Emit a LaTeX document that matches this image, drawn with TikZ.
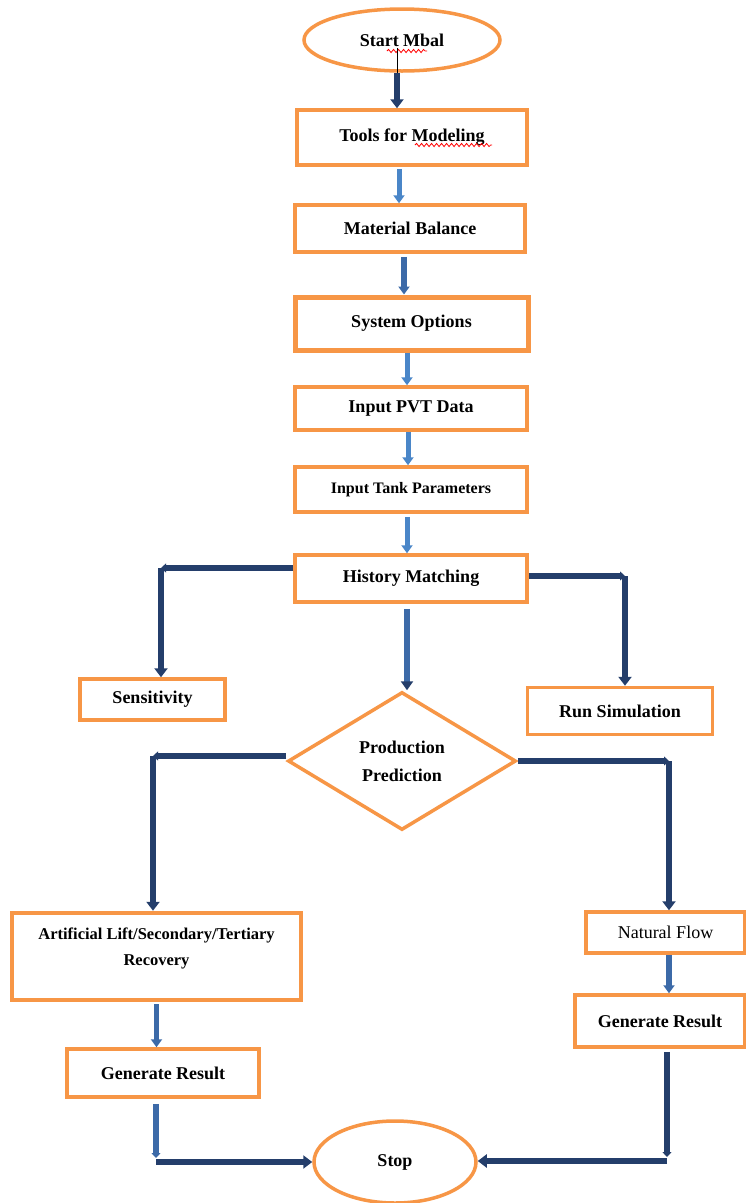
\documentclass[tikz,border=0pt]{standalone}
\usepackage{fontspec}
\setmainfont{Liberation Serif}
\usetikzlibrary{shapes.geometric,arrows.meta,decorations.pathmorphing}
\definecolor{boxorange}{RGB}{247,150,70}
\definecolor{navy}{RGB}{36,62,107}
\definecolor{lightblue}{RGB}{74,134,200}
\definecolor{steel}{RGB}{60,106,168}
\begin{document}
\begin{tikzpicture}[x=1pt,y=-1pt,
  box/.style={draw=boxorange,line width=3.5pt,fill=white,inner sep=2pt,
    font=\fontsize{18}{22}\selectfont\bfseries,align=center},
  term/.style={box,ellipse},
  navyline/.style={draw=navy,line width=6pt},
  navyarrow/.style={navyline,-{Triangle[width=13pt,length=9pt]}},
  navytip/.style={navyline,-{Triangle[width=9pt,length=5pt]}},
  lightarrow/.style={draw=lightblue,line width=5pt,-{Triangle[width=11pt,length=8pt]}},
  steelarrow/.style={draw=steel,line width=5.5pt,-{Triangle[width=11pt,length=8pt]}},
  steeltip/.style={draw=steel,line width=5.5pt,-{Triangle[width=9pt,length=5pt]}},
  squiggle/.style={draw=red,line width=0.8pt,decorate,decoration={snake,amplitude=1.6pt,segment length=5pt}}
]
\useasboundingbox (0,0) rectangle (745,1203);

% nodes
\node[term,minimum width=196pt,minimum height=62pt] (start) at (402,40) {Start Mbal};
\node[box,minimum width=230pt,minimum height=55pt] (tools) at (412,137.5) {Tools for Modeling};
\node[box,minimum width=230pt,minimum height=47pt] (mb) at (410,228.5) {Material Balance};
\node[box,line width=5pt,minimum width=233pt,minimum height=53pt] (so) at (411.5,323.5) {System Options};
\node[box,minimum width=232pt,minimum height=43pt] (pvt) at (411,408.5) {Input PVT Data};
\node[box,minimum width=232pt,minimum height=45pt,font=\fontsize{16}{20}\selectfont\bfseries] (tank) at (411,489.5) {Input Tank Parameters};
\node[box,minimum width=232pt,minimum height=47pt] (hm) at (411,578.5) {History Matching};
\node[box,minimum width=145pt,minimum height=41pt] (sens) at (152.5,699.5) {Sensitivity};
\node[box,minimum width=185pt,minimum height=47pt] (run) at (620,711) {Run Simulation};
\node[box,diamond,minimum width=228pt,minimum height=138pt,inner sep=0pt,
  font=\fontsize{18}{28}\selectfont\bfseries] (dia) at (402,761) {Production\\Prediction};
\node[box,line width=4.5pt,minimum width=289pt,minimum height=87pt,
  font=\fontsize{16.5}{26}\selectfont\bfseries] (art) at (156.5,956.5) {Artificial Lift/Secondary/Tertiary\\Recovery\\[-6pt]};
\node[box,minimum width=159pt,minimum height=41pt,font=\fontsize{18}{22}\selectfont] (nf) at (665.5,932.5) {Natural Flow};
\node[box,minimum width=170pt,minimum height=52pt] (genR) at (660,1021) {Generate Result};
\node[box,minimum width=192pt,minimum height=48pt] (genL) at (163,1073) {Generate Result};
\node[term,minimum width=162pt,minimum height=82pt] (stop) at (395,1162) {Stop};

% spell-check marks
\draw[squiggle] (387,51) -- (427,51);
\draw[squiggle] (415,145) -- (492,145);

% coordinates for bends
\coordinate (hl) at (161,568);
\coordinate (hr) at (625,576);
\coordinate (dl) at (153,756);
\coordinate (dr) at (669,761);
\coordinate (sl) at (156,1162);
\coordinate (sr) at (667,1161);

% main column
\draw[line width=0.8pt] ([xshift=-5pt,yshift=-8pt]start.center) -- ([xshift=-5pt]start.south);
\draw[navyarrow] ([xshift=-5pt]start.south) -- ([xshift=-5pt]start.south |- tools.north);
\draw[lightarrow,shorten <=2pt] ([xshift=-13pt]tools.south) -- ([xshift=-13pt]tools.south |- mb.north);
\draw[steelarrow,shorten <=3pt] ([xshift=-6pt]mb.south) -- ([xshift=-6pt]mb.south |- so.north);
\draw[lightarrow] ([xshift=-4.5pt]so.south) -- ([xshift=-4.5pt]so.south |- pvt.north);
\draw[lightarrow] ([xshift=-3pt]pvt.south) -- ([xshift=-3pt]pvt.south |- tank.north);
\draw[lightarrow,shorten <=3pt] ([xshift=-4pt]tank.south) -- ([xshift=-4pt]tank.south |- hm.north);
\draw[steelarrow,-{Triangle[width=12pt,length=9pt,color=navy]},shorten <=5pt] ([xshift=-4pt]hm.south) -- ([xshift=-4pt]hm.south |- dia.north);

% history matching branches
\draw[navytip] (hm.west |- hl) -- (hl);
\draw[navyarrow] (hl) -- (hl |- sens.north);
\draw[navytip] (hm.east |- hr) -- (hr);
\draw[navyarrow] (hr) -- (hr |- run.north);

% prediction branches
\draw[navytip] (dia.west |- dl) -- (dl);
\draw[navyarrow] (dl) -- (dl |- art.north);
\draw[navytip] (dia.east |- dr) -- (dr);
\draw[navyarrow] (dr) -- (dr |- nf.north);

% lower left
\draw[steelarrow,shorten <=2pt] (art.south) -- (art.south |- genL.north);
\draw[steeltip,shorten <=5pt] ([xshift=-7pt]genL.south) -- ([yshift=4pt]sl);
\draw[navyarrow] (sl) -- (stop.west);

% lower right
\draw[steelarrow] ([xshift=3.5pt]nf.south) -- ([xshift=3.5pt]nf.south |- genR.north);
\draw[navytip,shorten <=3pt] ([xshift=7pt]genR.south) -- ([yshift=4pt]sr);
\draw[navyarrow] (sr) -- (sr -| stop.east);
\end{tikzpicture}
\end{document}
